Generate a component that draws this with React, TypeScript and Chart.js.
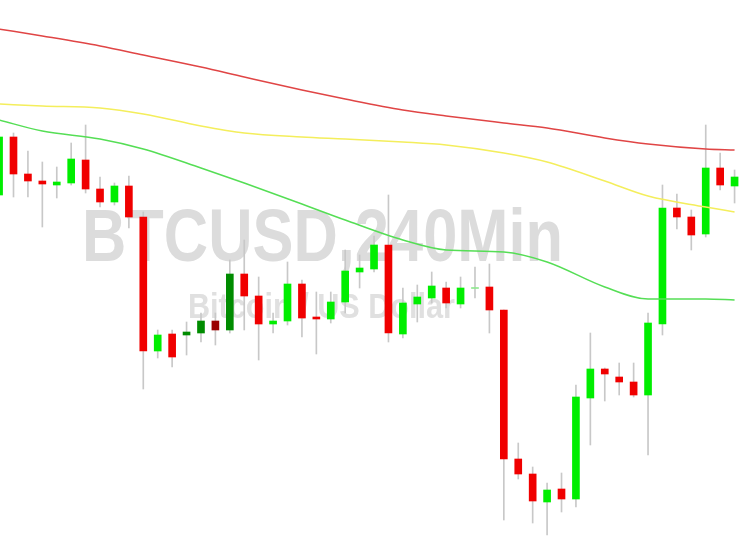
import React, { useEffect, useRef } from "react";
import { Chart, registerables } from "chart.js";

Chart.register(...registerables);

// Candles (arbitrary price units, 0 = bottom of view)
const opens = [341, 399, 362, 355, 351, 353, 376, 347, 334, 350, 319, 185, 202, 201, 203, 215, 206, 262, 240, 212, 215, 252, 219, 217, 234, 264, 267, 291, 202, 232, 238, 248, 232, 247.5, 249, 226, 77, 62, 34, 47, 37, 138, 167, 159, 154, 141, 212, 328, 319, 302, 368, 350];
const highs = [406, 403, 385, 374, 369, 393, 411, 359, 353, 360, 324, 206, 206, 214, 223, 223, 276, 296, 259, 223, 274, 256, 244, 244, 286, 281, 300, 341, 248, 251, 264, 254, 259, 269, 272, 226, 93, 69, 53, 63, 151, 203, 168, 173, 173, 223, 351, 342, 326, 411, 383, 366];
const lows = [338, 339, 339, 309, 338, 351, 343, 329, 331, 308, 147, 178, 169, 181, 194, 191, 203, 206, 176, 203, 211, 199, 182, 213, 223, 248, 264, 194, 198, 214, 233, 228, 228, 238, 203, 16, 57, 13, 1, 24, 29, 91, 135, 141, 139, 81, 201, 307, 286, 299, 346, 333];
const closes = [399, 362, 355, 352, 354, 377, 347, 334, 350, 319, 185, 201, 179, 204, 215, 206, 262, 240, 212, 215, 252, 218, 217, 234, 265, 268, 291, 203, 233, 239, 250, 233, 248, 248.5, 226, 77, 62, 35, 46, 37, 139, 167, 162, 154, 141, 213, 328, 319, 301, 368, 351, 359];
// candles drawn in the darker tone
const darkCandles = [13, 14, 15, 16];
const paleCandles = [33];

// Moving averages, sampled at candle indices
const maIndex = [0, 3, 7, 10, 14, 17, 21, 24, 28, 31, 35, 38, 42, 45, 49, 51];
const maRed = [507, 500, 490, 481, 469, 459, 446, 437, 426, 420, 413, 408, 398, 392, 387, 386];
const maYellow = [432, 430, 428, 422, 410, 403, 399, 397, 394, 391, 383, 374, 355, 340, 329, 324];
const maGreen = [416, 405, 397, 387, 368, 353, 332, 316, 296, 286, 284, 274, 249, 237, 237, 236];

const titleText = "BTCUSD,240Min";
const subtitleText = "Bitcoin / US Dollar";

const watermark = {
  id: "watermark",
  beforeDatasetsDraw(chart: any) {
    const ctx = chart.ctx;
    const draw = (text: string, size: number, targetW: number, cx: number, baseY: number, color: string) => {
      ctx.save();
      ctx.font = `bold ${size}px "Liberation Sans", Arial, sans-serif`;
      const w = ctx.measureText(text).width;
      const sx = targetW / w;
      ctx.translate(cx, baseY);
      ctx.scale(sx, 1);
      ctx.fillStyle = color;
      ctx.textAlign = "center";
      ctx.textBaseline = "alphabetic";
      ctx.fillText(text, 0, 0);
      ctx.restore();
    };
    draw(titleText, 75, 481, 322.5, 261, "#dcdcdc");
    draw(subtitleText, 35, 267, 321.5, 318, "#e0e0e0");
  },
};

export default function App() {
  const ref = useRef<HTMLCanvasElement | null>(null);
  useEffect(() => {
    if (!ref.current) return;
    const n = opens.length;
    const idx = Array.from({ length: n }, (_, i) => i);
    const bodyColors = idx.map((i) => {
      const up = closes[i] >= opens[i];
      if (paleCandles.includes(i)) return "#8fe88f";
      if (darkCandles.includes(i)) return up ? "#008c00" : "#9a0000";
      return up ? "#00ee00" : "#f00000";
    });
    const line = (vals: number[], color: string) => ({
      type: "line" as const,
      data: maIndex.map((x, k) => ({ x, y: vals[k] })),
      borderColor: color,
      borderWidth: 1.5,
      pointRadius: 0,
      cubicInterpolationMode: "monotone" as const,
      order: 1,
    });
    const chart = new Chart(ref.current, {
      type: "bar",
      data: {
        datasets: [
          {
            type: "bar",
            data: idx.map((i) => ({ x: i, y: [lows[i], highs[i]] })) as any,
            backgroundColor: "#c8c8c8",
            barThickness: 1,
            grouped: false,
            borderWidth: 0,
            order: 3,
          } as any,
          {
            type: "bar",
            data: idx.map((i) => ({ x: i, y: [opens[i], closes[i]] })) as any,
            backgroundColor: bodyColors,
            barThickness: 7,
            grouped: false,
            borderWidth: 0,
            order: 2,
          } as any,
          line(maRed, "#e04545") as any,
          line(maYellow, "#f4ee5c") as any,
          line(maGreen, "#55de55") as any,
        ],
      },
      options: {
        animation: false,
        responsive: false,
        maintainAspectRatio: false,
        devicePixelRatio: 1,
        layout: { padding: 0 },
        plugins: { legend: { display: false }, tooltip: { enabled: false } },
        scales: {
          x: { type: "linear", min: 0.064, max: 52.07, display: false, offset: false },
          y: { min: 0, max: 536, display: false },
        },
      },
      plugins: [watermark],
    } as any);
    return () => chart.destroy();
  }, []);
  return (
    <div style={{ position: "fixed", left: 0, top: 0, width: 750, height: 536, background: "#fff" }}>
      <canvas ref={ref} width={750} height={536} style={{ display: "block" }} />
    </div>
  );
}
